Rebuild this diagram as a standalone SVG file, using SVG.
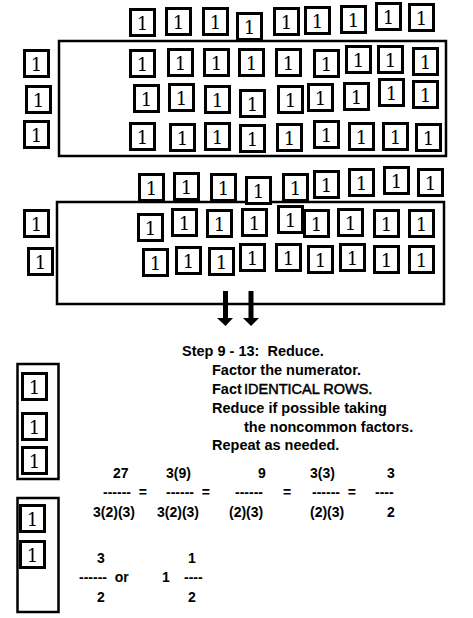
<svg xmlns="http://www.w3.org/2000/svg" width="473" height="618" viewBox="0 0 473 618">
<style>
.tb{fill:#fff;stroke:#000;stroke-width:3}
.tn{font-family:"DejaVu Serif","Liberation Serif",serif;font-size:18px;text-anchor:middle;fill:#000}
.bx{fill:none;stroke:#000;stroke-width:2.5}
.tx{font-family:"Liberation Sans",Arial,sans-serif;font-size:14.5px;font-weight:bold;fill:#000;white-space:pre}
.fr{font-family:"Liberation Sans",Arial,sans-serif;font-size:14px;font-weight:bold;fill:#000;white-space:pre}
.rg{font-weight:normal;stroke:#000;stroke-width:0.5}
</style>
<rect width="473" height="618" fill="#fff"/>
<g id="box1"><rect class="bx" x="59" y="41" width="387" height="115"/></g>
<g id="box2"><rect class="bx" x="57" y="202" width="387" height="102"/></g>
<g id="box3"><rect class="bx" x="17.5" y="364" width="41" height="115"/></g>
<g id="box4"><rect class="bx" x="17.5" y="498" width="41" height="114"/></g>
<g id="connectors">
<polygon points="223,291 228,291 228,318 233,318 225.5,326 217,318 223,318" fill="#000"/>
<polygon points="248.5,291 253.5,291 253.5,318 259,318 251,326 243,318 248.5,318" fill="#000"/>
</g>
<g id="rowA">
<g id="a1" transform="translate(129,8)"><rect class="tb" x="1.5" y="1.5" width="24" height="26"/><text class="tn" x="13.5" y="22">1</text></g>
<g id="a2" transform="translate(165,7)"><rect class="tb" x="1.5" y="1.5" width="24" height="26"/><text class="tn" x="13.5" y="22">1</text></g>
<g id="a3" transform="translate(202,7)"><rect class="tb" x="1.5" y="1.5" width="24" height="26"/><text class="tn" x="13.5" y="22">1</text></g>
<g id="a4" transform="translate(236,12)"><rect class="tb" x="1.5" y="1.5" width="24" height="26"/><text class="tn" x="13.5" y="22">1</text></g>
<g id="a5" transform="translate(273,7)"><rect class="tb" x="1.5" y="1.5" width="24" height="26"/><text class="tn" x="13.5" y="22">1</text></g>
<g id="a6" transform="translate(304,6)"><rect class="tb" x="1.5" y="1.5" width="24" height="26"/><text class="tn" x="13.5" y="22">1</text></g>
<g id="a7" transform="translate(340,5)"><rect class="tb" x="1.5" y="1.5" width="24" height="26"/><text class="tn" x="13.5" y="22">1</text></g>
<g id="a8" transform="translate(375,2)"><rect class="tb" x="1.5" y="1.5" width="24" height="26"/><text class="tn" x="13.5" y="22">1</text></g>
<g id="a9" transform="translate(408,3)"><rect class="tb" x="1.5" y="1.5" width="24" height="26"/><text class="tn" x="13.5" y="22">1</text></g>
</g>
<g id="rowB">
<g id="b1" transform="translate(129,49)"><rect class="tb" x="1.5" y="1.5" width="24" height="26"/><text class="tn" x="13.5" y="22">1</text></g>
<g id="b2" transform="translate(167,48)"><rect class="tb" x="1.5" y="1.5" width="24" height="26"/><text class="tn" x="13.5" y="22">1</text></g>
<g id="b3" transform="translate(203,48)"><rect class="tb" x="1.5" y="1.5" width="24" height="26"/><text class="tn" x="13.5" y="22">1</text></g>
<g id="b4" transform="translate(238,48)"><rect class="tb" x="1.5" y="1.5" width="24" height="26"/><text class="tn" x="13.5" y="22">1</text></g>
<g id="b5" transform="translate(275,48)"><rect class="tb" x="1.5" y="1.5" width="24" height="26"/><text class="tn" x="13.5" y="22">1</text></g>
<g id="b6" transform="translate(313,49)"><rect class="tb" x="1.5" y="1.5" width="24" height="26"/><text class="tn" x="13.5" y="22">1</text></g>
<g id="b7" transform="translate(345,45)"><rect class="tb" x="1.5" y="1.5" width="24" height="26"/><text class="tn" x="13.5" y="22">1</text></g>
<g id="b8" transform="translate(377,45)"><rect class="tb" x="1.5" y="1.5" width="24" height="26"/><text class="tn" x="13.5" y="22">1</text></g>
<g id="b9" transform="translate(412,47)"><rect class="tb" x="1.5" y="1.5" width="24" height="26"/><text class="tn" x="13.5" y="22">1</text></g>
</g>
<g id="rowC">
<g id="c1" transform="translate(133,84)"><rect class="tb" x="1.5" y="1.5" width="24" height="26"/><text class="tn" x="13.5" y="22">1</text></g>
<g id="c2" transform="translate(168,83)"><rect class="tb" x="1.5" y="1.5" width="24" height="26"/><text class="tn" x="13.5" y="22">1</text></g>
<g id="c3" transform="translate(204,85)"><rect class="tb" x="1.5" y="1.5" width="24" height="26"/><text class="tn" x="13.5" y="22">1</text></g>
<g id="c4" transform="translate(239,89)"><rect class="tb" x="1.5" y="1.5" width="24" height="26"/><text class="tn" x="13.5" y="22">1</text></g>
<g id="c5" transform="translate(277,85)"><rect class="tb" x="1.5" y="1.5" width="24" height="26"/><text class="tn" x="13.5" y="22">1</text></g>
<g id="c6" transform="translate(307,83)"><rect class="tb" x="1.5" y="1.5" width="24" height="26"/><text class="tn" x="13.5" y="22">1</text></g>
<g id="c7" transform="translate(343,82)"><rect class="tb" x="1.5" y="1.5" width="24" height="26"/><text class="tn" x="13.5" y="22">1</text></g>
<g id="c8" transform="translate(378,78)"><rect class="tb" x="1.5" y="1.5" width="24" height="26"/><text class="tn" x="13.5" y="22">1</text></g>
<g id="c9" transform="translate(412,80)"><rect class="tb" x="1.5" y="1.5" width="24" height="26"/><text class="tn" x="13.5" y="22">1</text></g>
</g>
<g id="rowD">
<g id="d1" transform="translate(129,122)"><rect class="tb" x="1.5" y="1.5" width="24" height="26"/><text class="tn" x="13.5" y="22">1</text></g>
<g id="d2" transform="translate(169,123)"><rect class="tb" x="1.5" y="1.5" width="24" height="26"/><text class="tn" x="13.5" y="22">1</text></g>
<g id="d3" transform="translate(204,122)"><rect class="tb" x="1.5" y="1.5" width="24" height="26"/><text class="tn" x="13.5" y="22">1</text></g>
<g id="d4" transform="translate(239,124)"><rect class="tb" x="1.5" y="1.5" width="24" height="26"/><text class="tn" x="13.5" y="22">1</text></g>
<g id="d5" transform="translate(276,123)"><rect class="tb" x="1.5" y="1.5" width="24" height="26"/><text class="tn" x="13.5" y="22">1</text></g>
<g id="d6" transform="translate(313,120)"><rect class="tb" x="1.5" y="1.5" width="24" height="26"/><text class="tn" x="13.5" y="22">1</text></g>
<g id="d7" transform="translate(348,122)"><rect class="tb" x="1.5" y="1.5" width="24" height="26"/><text class="tn" x="13.5" y="22">1</text></g>
<g id="d8" transform="translate(382,122)"><rect class="tb" x="1.5" y="1.5" width="24" height="26"/><text class="tn" x="13.5" y="22">1</text></g>
<g id="d9" transform="translate(415,123)"><rect class="tb" x="1.5" y="1.5" width="24" height="26"/><text class="tn" x="13.5" y="22">1</text></g>
</g>
<g id="left1">
<g id="l1" transform="translate(23,49)"><rect class="tb" x="1.5" y="1.5" width="24" height="26"/><text class="tn" x="13.5" y="22">1</text></g>
<g id="l2" transform="translate(25,85)"><rect class="tb" x="1.5" y="1.5" width="24" height="26"/><text class="tn" x="13.5" y="22">1</text></g>
<g id="l3" transform="translate(23,120)"><rect class="tb" x="1.5" y="1.5" width="24" height="26"/><text class="tn" x="13.5" y="22">1</text></g>
</g>
<g id="rowE">
<g id="e1" transform="translate(138,173)"><rect class="tb" x="1.5" y="1.5" width="24" height="26"/><text class="tn" x="13.5" y="22">1</text></g>
<g id="e2" transform="translate(173,172)"><rect class="tb" x="1.5" y="1.5" width="24" height="26"/><text class="tn" x="13.5" y="22">1</text></g>
<g id="e3" transform="translate(210,173)"><rect class="tb" x="1.5" y="1.5" width="24" height="26"/><text class="tn" x="13.5" y="22">1</text></g>
<g id="e4" transform="translate(245,176)"><rect class="tb" x="1.5" y="1.5" width="24" height="26"/><text class="tn" x="13.5" y="22">1</text></g>
<g id="e5" transform="translate(282,173)"><rect class="tb" x="1.5" y="1.5" width="24" height="26"/><text class="tn" x="13.5" y="22">1</text></g>
<g id="e6" transform="translate(313,170)"><rect class="tb" x="1.5" y="1.5" width="24" height="26"/><text class="tn" x="13.5" y="22">1</text></g>
<g id="e7" transform="translate(348,168)"><rect class="tb" x="1.5" y="1.5" width="24" height="26"/><text class="tn" x="13.5" y="22">1</text></g>
<g id="e8" transform="translate(383,166)"><rect class="tb" x="1.5" y="1.5" width="24" height="26"/><text class="tn" x="13.5" y="22">1</text></g>
<g id="e9" transform="translate(417,168)"><rect class="tb" x="1.5" y="1.5" width="24" height="26"/><text class="tn" x="13.5" y="22">1</text></g>
</g>
<g id="rowF">
<g id="f1" transform="translate(137,213)"><rect class="tb" x="1.5" y="1.5" width="24" height="26"/><text class="tn" x="13.5" y="22">1</text></g>
<g id="f2" transform="translate(171,208)"><rect class="tb" x="1.5" y="1.5" width="24" height="26"/><text class="tn" x="13.5" y="22">1</text></g>
<g id="f3" transform="translate(206,209)"><rect class="tb" x="1.5" y="1.5" width="24" height="26"/><text class="tn" x="13.5" y="22">1</text></g>
<g id="f4" transform="translate(241,208)"><rect class="tb" x="1.5" y="1.5" width="24" height="26"/><text class="tn" x="13.5" y="22">1</text></g>
<g id="f5" transform="translate(277,205)"><rect class="tb" x="1.5" y="1.5" width="24" height="26"/><text class="tn" x="13.5" y="22">1</text></g>
<g id="f6" transform="translate(303,209)"><rect class="tb" x="1.5" y="1.5" width="24" height="26"/><text class="tn" x="13.5" y="22">1</text></g>
<g id="f7" transform="translate(337,208)"><rect class="tb" x="1.5" y="1.5" width="24" height="26"/><text class="tn" x="13.5" y="22">1</text></g>
<g id="f8" transform="translate(373,209)"><rect class="tb" x="1.5" y="1.5" width="24" height="26"/><text class="tn" x="13.5" y="22">1</text></g>
<g id="f9" transform="translate(408,209)"><rect class="tb" x="1.5" y="1.5" width="24" height="26"/><text class="tn" x="13.5" y="22">1</text></g>
</g>
<g id="rowG">
<g id="g1" transform="translate(142,248)"><rect class="tb" x="1.5" y="1.5" width="24" height="26"/><text class="tn" x="13.5" y="22">1</text></g>
<g id="g2" transform="translate(175,246)"><rect class="tb" x="1.5" y="1.5" width="24" height="26"/><text class="tn" x="13.5" y="22">1</text></g>
<g id="g3" transform="translate(208,247)"><rect class="tb" x="1.5" y="1.5" width="24" height="26"/><text class="tn" x="13.5" y="22">1</text></g>
<g id="g4" transform="translate(239,243)"><rect class="tb" x="1.5" y="1.5" width="24" height="26"/><text class="tn" x="13.5" y="22">1</text></g>
<g id="g5" transform="translate(275,243)"><rect class="tb" x="1.5" y="1.5" width="24" height="26"/><text class="tn" x="13.5" y="22">1</text></g>
<g id="g6" transform="translate(307,245)"><rect class="tb" x="1.5" y="1.5" width="24" height="26"/><text class="tn" x="13.5" y="22">1</text></g>
<g id="g7" transform="translate(339,243)"><rect class="tb" x="1.5" y="1.5" width="24" height="26"/><text class="tn" x="13.5" y="22">1</text></g>
<g id="g8" transform="translate(373,245)"><rect class="tb" x="1.5" y="1.5" width="24" height="26"/><text class="tn" x="13.5" y="22">1</text></g>
<g id="g9" transform="translate(408,245)"><rect class="tb" x="1.5" y="1.5" width="24" height="26"/><text class="tn" x="13.5" y="22">1</text></g>
</g>
<g id="left2">
<g id="m1" transform="translate(23,209)"><rect class="tb" x="1.5" y="1.5" width="24" height="26"/><text class="tn" x="13.5" y="22">1</text></g>
<g id="m2" transform="translate(27,247)"><rect class="tb" x="1.5" y="1.5" width="24" height="26"/><text class="tn" x="13.5" y="22">1</text></g>
</g>
<g id="left3">
<g id="n1" transform="translate(21,372)"><rect class="tb" x="1.5" y="1.5" width="24" height="26"/><text class="tn" x="13.5" y="22">1</text></g>
<g id="n2" transform="translate(21,412)"><rect class="tb" x="1.5" y="1.5" width="24" height="26"/><text class="tn" x="13.5" y="22">1</text></g>
<g id="n3" transform="translate(21,446)"><rect class="tb" x="1.5" y="1.5" width="24" height="26"/><text class="tn" x="13.5" y="22">1</text></g>
</g>
<g id="left4">
<g id="o1" transform="translate(19,504)"><rect class="tb" x="1.5" y="1.5" width="24" height="26"/><text class="tn" x="13.5" y="22">1</text></g>
<g id="o2" transform="translate(19,540)"><rect class="tb" x="1.5" y="1.5" width="24" height="26"/><text class="tn" x="13.5" y="22">1</text></g>
</g>
<g id="steps">
<text class="tx" x="182" y="356">Step 9 - 13:  Reduce.</text>
<text class="tx" x="212" y="375">Factor the numerator.</text>
<text class="tx" x="212" y="394">Fact<tspan class="rg" x="244">IDENTICAL ROWS.</tspan></text>
<text class="tx" x="212" y="413">Reduce if possible taking</text>
<text class="tx" x="244" y="432">the noncommon factors.</text>
<text class="tx" x="212" y="450">Repeat as needed.</text>
</g>
<g id="fractions">
<text class="fr" x="113" y="478">27</text>
<text class="fr" x="166" y="478">3(9)</text>
<text class="fr" x="258" y="478">9</text>
<text class="fr" x="310" y="478">3(3)</text>
<text class="fr" x="387" y="478">3</text>
<text class="fr" x="103" y="497">------  =</text>
<text class="fr" x="166" y="497">------  =</text>
<text class="fr" x="235" y="497">------</text>
<text class="fr" x="283" y="497">=</text>
<text class="fr" x="312" y="497">------  =</text>
<text class="fr" x="375" y="497">----</text>
<text class="fr" x="93" y="517">3(2)(3)</text>
<text class="fr" x="157" y="517">3(2)(3)</text>
<text class="fr" x="229" y="517">(2)(3)</text>
<text class="fr" x="310" y="517">(2)(3)</text>
<text class="fr" x="387" y="517">2</text>
<text class="fr" x="97" y="563">3</text>
<text class="fr" x="188" y="563">1</text>
<text class="fr" x="79" y="582">------  or</text>
<text class="fr" x="162" y="582">1</text>
<text class="fr" x="184" y="582">----</text>
<text class="fr" x="97" y="602">2</text>
<text class="fr" x="188" y="602">2</text>
</g>
</svg>
